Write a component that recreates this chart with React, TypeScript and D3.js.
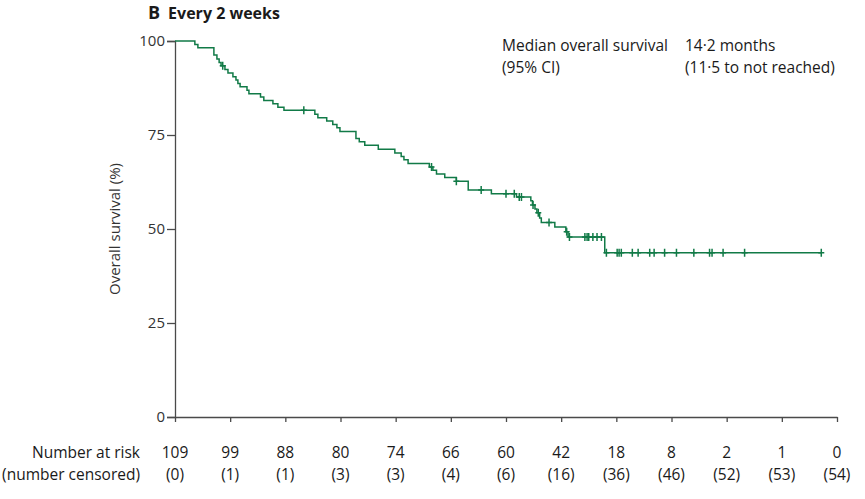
import React, { useRef, useEffect } from "react";
import * as d3 from "d3";

// Kaplan-Meier steps (months, % surviving)
const stepTimes = [0, 0.72, 0.83, 1.41, 1.52, 1.6, 1.67, 1.81, 1.92, 2.1, 2.21, 2.28, 2.36, 2.61, 2.68, 3.1, 3.22, 3.55, 3.73, 3.95,
  5.07, 5.18, 5.5, 5.72, 5.87, 5.98, 6.56, 6.68, 6.88, 7.37, 7.97, 8.2, 8.3, 8.45, 9.22, 9.35, 9.48, 9.78, 10.2, 10.63,
  11.47, 12.38, 12.9, 12.96, 13.05, 13.12, 13.22, 13.28, 13.77, 14.17, 14.25, 15.58, 23.43];
const stepSurv = [100, 99.1, 98.2, 96.3, 95.2, 94.3, 93.4, 92.4, 91.5, 90.5, 89.6, 88.7, 87.8, 86.9, 86.0, 85.1, 84.2, 83.3, 82.4, 81.6,
  80.5, 79.6, 78.7, 77.8, 76.9, 75.9, 74.1, 73.2, 72.3, 71.2, 70.2, 69.3, 68.4, 67.4, 66.5, 65.6, 64.6, 63.7, 62.7, 60.4,
  59.4, 58.5, 57.5, 56.4, 55.3, 54.3, 52.9, 51.7, 50.5, 49.3, 47.9, 43.7, 43.7];
const censorTimes = [1.73, 4.67, 9.3, 10.2, 11.1, 12.0, 12.3, 12.48, 12.56, 12.98, 13.17, 13.56, 14.2, 14.3, 14.86, 14.94, 15.0,
  15.15, 15.3, 15.46, 15.64, 16.03, 16.1, 16.18, 16.58, 16.79, 17.21, 17.37, 17.75, 18.18, 18.81, 19.38, 19.47, 19.87, 20.65, 23.43];

const riskTimes = [0, 2, 4, 6, 8, 10, 12, 14, 16, 18, 20, 22, 24];
const atRisk = [109, 99, 88, 80, 74, 66, 60, 42, 18, 8, 2, 1, 0];
const censored = [0, 1, 1, 3, 3, 4, 6, 16, 36, 46, 52, 53, 54];
const yTicks = [0, 25, 50, 75, 100];

const green = "#117a47";
const axisGrey = "#4a4a4a";
const font = "'Open Sans', sans-serif";
const fs = 15.5;

const App = () => {
  const ref = useRef<SVGSVGElement>(null);

  useEffect(() => {
    const svg = d3.select(ref.current);
    svg.selectAll("*").remove();

    const x = d3.scaleLinear().domain([0, 24]).range([175, 837]);
    const y = d3.scaleLinear().domain([0, 100]).range([417, 41]);

    const pts: [number, number][] = stepTimes.map((t, i) => [t, stepSurv[i]]);
    const survAt = (t: number) => {
      let s = 100;
      pts.forEach(p => { if (p[0] <= t) s = p[1]; });
      return s;
    };

    // title
    const title = svg.append("text").attr("x", 148).attr("y", 19)
      .attr("font-family", font).attr("font-weight", "bold").attr("fill", "#1a1a1a");
    title.append("tspan").attr("font-size", 18).text("B");
    title.append("tspan").attr("font-size", 16).attr("dx", 8).text("Every 2 weeks");

    // y axis
    const yAxis = d3.axisLeft(y).tickValues(yTicks).tickSize(8).tickPadding(2);
    const gy = svg.append("g").attr("transform", `translate(${x(0)},0)`).call(yAxis);
    gy.select(".domain").attr("stroke", axisGrey).attr("stroke-width", 1.3);
    gy.selectAll(".tick line").attr("stroke", axisGrey).attr("stroke-width", 1.3);
    gy.selectAll(".tick text").attr("font-family", font).attr("font-size", 15).attr("fill", "#333");

    // x axis (ticks only, numbers at risk below)
    const xAxis = d3.axisBottom(x).tickValues(riskTimes).tickSize(5).tickSizeOuter(0).tickFormat(() => "");
    const gx = svg.append("g").attr("transform", `translate(0,${y(0)})`).call(xAxis);
    gx.select(".domain").attr("stroke", axisGrey).attr("stroke-width", 1.3);
    gx.selectAll(".tick line").attr("stroke", axisGrey).attr("stroke-width", 1.3);

    svg.append("text")
      .attr("transform", `translate(120,${y(50)}) rotate(-90)`)
      .attr("text-anchor", "middle").attr("font-family", font).attr("font-size", 15).attr("fill", "#333")
      .text("Overall survival (%)");

    // curve
    const line = d3.line<[number, number]>()
      .x(d => x(d[0])).y(d => y(d[1])).curve(d3.curveStepAfter);
    svg.append("path").datum(pts).attr("d", line)
      .attr("fill", "none").attr("stroke", green).attr("stroke-width", 1.5);

    svg.append("g").selectAll("path").data(censorTimes).join("path")
      .attr("d", t => {
        const cx = x(t), cy = y(survAt(t));
        return `M${cx - 3},${cy}H${cx + 3}M${cx},${cy - 4}V${cy + 4}`;
      })
      .attr("stroke", green).attr("stroke-width", 1.5).attr("fill", "none");

    // legend
    const leg = svg.append("g").attr("font-family", font).attr("font-size", fs).attr("fill", "#1a1a1a");
    leg.append("text").attr("x", 502).attr("y", 51).text("Median overall survival");
    leg.append("text").attr("x", 502).attr("y", 73).text("(95% CI)");
    leg.append("text").attr("x", 685).attr("y", 51).text("14·2 months");
    leg.append("text").attr("x", 685).attr("y", 73).text("(11·5 to not reached)");

    // risk table
    const tbl = svg.append("g").attr("font-family", font).attr("font-size", fs).attr("fill", "#1a1a1a");
    tbl.append("text").attr("x", 140).attr("y", 458).attr("text-anchor", "end").text("Number at risk");
    tbl.append("text").attr("x", 140).attr("y", 480).attr("text-anchor", "end").text("(number censored)");
    tbl.selectAll("text.risk").data(riskTimes).join("text").attr("class", "risk")
      .attr("x", t => x(t)).attr("y", 458).attr("text-anchor", "middle")
      .text((_, i) => String(atRisk[i]));
    tbl.selectAll("text.cens").data(riskTimes).join("text").attr("class", "cens")
      .attr("x", t => x(t)).attr("y", 480).attr("text-anchor", "middle")
      .text((_, i) => `(${censored[i]})`);
  }, []);

  return (
    <svg ref={ref} width={865} height={499}
      style={{ position: "absolute", left: 0, top: 0, background: "#fff" }} />
  );
};

export default App;
